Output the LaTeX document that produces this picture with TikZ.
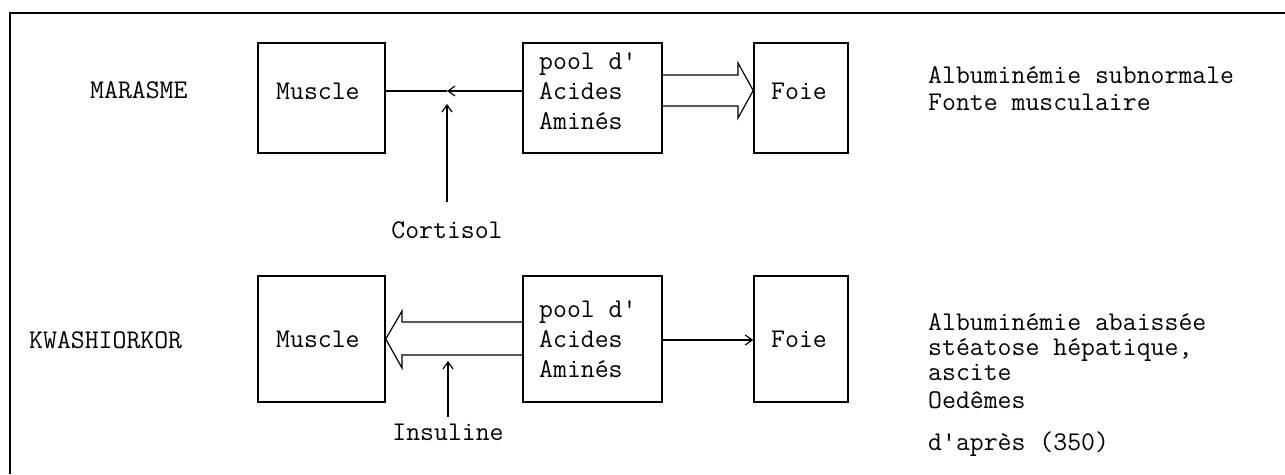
\documentclass[tikz,border=0pt]{standalone}
\usepackage{fontspec}
\usetikzlibrary{arrows.meta}
\begin{document}
\begin{tikzpicture}[x=1pt,y=-1pt,
  box/.style={draw, line width=1.5pt, inner sep=0pt},
  txt/.style={anchor=base west, inner sep=0pt, font=\fontsize{27}{30}\selectfont\ttfamily},
  ctxt/.style={anchor=base, inner sep=0pt, font=\fontsize{27}{30}\selectfont\ttfamily},
  ln/.style={line width=1.2pt},
  arr/.style={line width=1.2pt, -{Straight Barb[length=7pt,width=10pt]}}]
\useasboundingbox (0,0) rectangle (1285,474);
% frame
\draw[line width=1.5pt] (10,474) -- (10,13) -- (1285,13);

% ---------- MARASME ----------
\node[txt] (mar) at (90,98) {MARASME};
\node[box, minimum width=127pt, minimum height=110pt] (m1) at (321.5,98) {};
\node[box, minimum width=139pt, minimum height=110pt] (p1) at (592.5,98) {};
\node[box, minimum width=94pt, minimum height=110pt] (f1) at (801,98) {};
\node[txt] (m1t) at (276,99) {Muscle};
\node[txt] (p1a) at (539,69) {pool d'};
\node[txt] (p1b) at (539,99) {Acides};
\node[txt] (p1c) at (539,129) {Aminés};
\node[txt] (f1t) at (771,99) {Foie};
\node[ctxt] (cort) at (447,238) {Cortisol};
\node[txt] (r1a) at (928,83) {Albuminémie subnormale};
\node[txt] (r1b) at (928,110) {Fonte musculaire};

\coordinate (c1) at (447,91);
\draw[arr] (p1.west |- c1) -- (c1);
\draw[ln] (c1) -- (m1.east |- c1);
\coordinate (c1b) at (447,104);
\draw[arr] ([yshift=19pt]cort.north) -- (c1b);
% hollow arrow to Foie
\draw[ln, line join=miter] (p1.east |- 0,75) -- (738,75) -- (738,63) -- (f1.west |- 0,90.5)
  -- (738,118) -- (738,106) -- (p1.east |- 0,106);

% ---------- KWASHIORKOR ----------
\node[txt] (kw) at (29,348) {KWASHIORKOR};
\node[box, minimum width=127pt, minimum height=126pt] (m2) at (321.5,339) {};
\node[box, minimum width=139pt, minimum height=126pt] (p2) at (592.5,339) {};
\node[box, minimum width=94pt, minimum height=126pt] (f2) at (801,339) {};
\node[txt] (m2t) at (276,347) {Muscle};
\node[txt] (p2a) at (539,317) {pool d'};
\node[txt] (p2b) at (539,347) {Acides};
\node[txt] (p2c) at (539,377) {Aminés};
\node[txt] (f2t) at (771,347) {Foie};
\node[ctxt] (ins) at (448,440) {Insuline};
\node[txt] (r2a) at (928,330) {Albuminémie abaissée};
\node[txt] (r2b) at (928,355) {stéatose hépatique,};
\node[txt] (r2c) at (928,380) {ascite};
\node[txt] (r2d) at (928,408) {Oedêmes};
\node[txt] (r2e) at (928,450) {d'après (350)};

% hollow arrow to Muscle
\draw[ln, line join=miter] (p2.west |- 0,322) -- (402,322) -- (402,311) -- (m2.east |- 0,339)
  -- (402,368) -- (402,355) -- (p2.west |- 0,355);
\draw[arr] ([yshift=6pt]ins.north) -- (ins.north |- 0,361);
\draw[arr] (p2.east |- 0,340) -- (f2.west |- 0,340);
\end{tikzpicture}
\end{document}
